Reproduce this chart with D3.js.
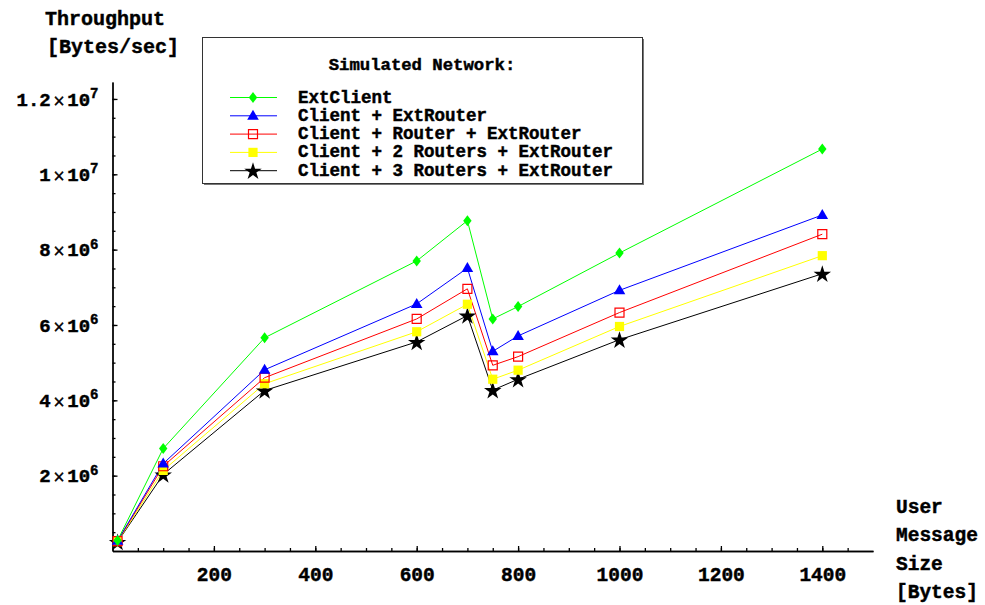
<!DOCTYPE html>
<html>
<head>
<meta charset="utf-8">
<script src="https://cdn.jsdelivr.net/npm/d3@7"></script>
<style>
  body { margin: 0; background: #fff; }
  text { font-family: "Liberation Mono", "DejaVu Sans Mono", monospace; font-weight: bold; fill: #000;
         stroke: #000; stroke-width: 0.45; }
</style>
</head>
<body>
<svg id="chart" width="985" height="605"></svg>
<script>
// message sizes (bytes)
const sizes = [10, 100, 300, 600, 700, 750, 800, 1000, 1400];

// throughput in bytes/sec
const extClient      = [0.28e6, 2.72e6, 5.66e6, 7.70e6, 8.77e6, 6.16e6, 6.49e6, 7.91e6, 10.67e6];
const clientExt      = [0.27e6, 2.32e6, 4.81e6, 6.56e6, 7.51e6, 5.30e6, 5.71e6, 6.92e6, 8.92e6];
const clientRouter   = [0.26e6, 2.25e6, 4.60e6, 6.16e6, 6.96e6, 4.93e6, 5.16e6, 6.33e6, 8.41e6];
const client2Routers = [0.25e6, 2.14e6, 4.44e6, 5.82e6, 6.55e6, 4.56e6, 4.80e6, 5.96e6, 7.84e6];
const client3Routers = [0.24e6, 2.03e6, 4.26e6, 5.55e6, 6.25e6, 4.27e6, 4.56e6, 5.61e6, 7.36e6];

const seriesNames = ["ExtClient", "Client + ExtRouter", "Client + Router + ExtRouter",
                     "Client + 2 Routers + ExtRouter", "Client + 3 Routers + ExtRouter"];
const seriesColors = ["#00ff00", "#0000ff", "#ff0000", "#ffff00", "#000000"];
const seriesMarks = ["diamond", "triangle", "openSquare", "square", "star"];

const xTicks = [200, 400, 600, 800, 1000, 1200, 1400];
const yTicks = [2e6, 4e6, 6e6, 8e6, 10e6, 12e6];
const yTickMantissa = ["2", "4", "6", "8", "1", "1.2"];
const yTickExponent = ["6", "6", "6", "6", "7", "7"];
const xTitleLines = ["User", "Message", "Size", "[Bytes]"];

const svg = d3.select("#chart");

let x = d3.scaleLinear().domain([0, 1500]).range([112.5, 873]);
let y = d3.scaleLinear().domain([0, 12.45e6]).range([551, 82]);

// x axis: minor then major ticks
svg.append("g")
    .attr("transform", `translate(0,${y(0)})`)
    .call(d3.axisBottom(x).tickValues(d3.range(50, 1500, 50)).tickSize(-3).tickSizeOuter(0).tickFormat(""))
    .call(g => g.selectAll("line, path").attr("stroke", "#000").attr("stroke-width", 1.3));

let xAxis = svg.append("g")
    .attr("transform", `translate(0,${y(0)})`)
    .call(d3.axisBottom(x).tickValues(xTicks).tickSize(-5).tickSizeOuter(0).tickPadding(16).tickFormat(d3.format("d")));
xAxis.selectAll("line, path").attr("stroke", "#000").attr("stroke-width", 1.3);
xAxis.selectAll("text").attr("font-size", 19.5).attr("fill", "#000")
    .style("font-family", '"Liberation Mono", monospace').style("font-weight", "bold");

// y axis
svg.append("g")
    .attr("transform", `translate(${x(0)},0)`)
    .call(d3.axisLeft(y).tickValues(d3.range(0.5e6, 12.5e6, 0.5e6)).tickSize(-3).tickSizeOuter(0).tickFormat(""))
    .call(g => g.selectAll("line, path").attr("stroke", "#000").attr("stroke-width", 1.3));

let yAxis = svg.append("g")
    .attr("transform", `translate(${x(0)},0)`)
    .call(d3.axisLeft(y).tickValues(yTicks).tickSize(-5).tickSizeOuter(0).tickPadding(14).tickFormat(""));
yAxis.selectAll("line, path").attr("stroke", "#000").attr("stroke-width", 1.3);
yAxis.selectAll(".tick text").each(function(d, i) {
    let t = d3.select(this).attr("font-size", 19).attr("fill", "#000")
        .style("font-family", '"Liberation Mono", monospace').style("font-weight", "bold");
    t.append("tspan").text(yTickMantissa[i]);
    t.append("tspan").text("\u00d7").style("font-family", '"DejaVu Sans", sans-serif')
        .style("font-weight", "normal").attr("font-size", 15).attr("dx", 2);
    t.append("tspan").text("10").attr("dx", 2);
    t.append("tspan").text(yTickExponent[i]).attr("font-size", 14).attr("dy", "-0.55em");
});

// axis titles
svg.append("text").attr("x", 45).attr("y", 25).attr("font-size", 20).text("Throughput");
svg.append("text").attr("x", 47).attr("y", 53).attr("font-size", 20).text("[Bytes/sec]");
xTitleLines.forEach((s, i) => {
    svg.append("text").attr("x", 896).attr("y", 513 + i * 28.3).attr("font-size", 19.5).text(s);
});

function markerPath(kind) {
    if (kind === "diamond") return "M0,-5.5L4.2,0L0,5.5L-4.2,0Z";
    if (kind === "triangle") return "M0,-6L5.8,4L-5.8,4Z";
    if (kind === "openSquare") return "M-4.5,-4.5H4.5V4.5H-4.5Z";
    if (kind === "square") return "M-4.6,-4.6H4.6V4.6H-4.6Z";
    return d3.symbol(d3.symbolStar, 95)();
}

function drawMarker(g, kind, color) {
    let p = g.append("path").attr("d", markerPath(kind));
    if (kind === "openSquare") {
        p.attr("fill", "#fff").attr("fill-opacity", 0).attr("stroke", color).attr("stroke-width", 1.2);
    } else {
        p.attr("fill", color);
    }
    if (kind === "star") p.attr("transform", "translate(0,0.8)");
}

const allSeries = [extClient, clientExt, clientRouter, client2Routers, client3Routers];
let line = d3.line().x((d, i) => x(sizes[i])).y(d => y(d));

// draw in reverse so green is on top at overlaps
for (let s = allSeries.length - 1; s >= 0; s--) {
    svg.append("path")
        .datum(allSeries[s])
        .attr("d", line)
        .attr("fill", "none")
        .attr("stroke", seriesColors[s])
        .attr("stroke-width", 1);
}
for (let s = allSeries.length - 1; s >= 0; s--) {
    allSeries[s].forEach((v, i) => {
        let g = svg.append("g").attr("transform", `translate(${x(sizes[i])},${y(v)})`);
        drawMarker(g, seriesMarks[s], seriesColors[s]);
    });
}

// legend
let legend = svg.append("g");
legend.append("rect").attr("x", 204).attr("y", 39).attr("width", 440).attr("height", 146).attr("fill", "#777");
legend.append("rect").attr("x", 202.5).attr("y", 37.5).attr("width", 440).attr("height", 146)
    .attr("fill", "#fff").attr("stroke", "#333").attr("stroke-width", 1);
legend.append("text").attr("x", 422).attr("y", 70).attr("text-anchor", "middle").attr("font-size", 17.3)
    .text("Simulated Network:");
seriesNames.forEach((name, i) => {
    let ly = 97.5 + i * 18.3;
    legend.append("line").attr("x1", 230).attr("x2", 277).attr("y1", ly).attr("y2", ly)
        .attr("stroke", seriesColors[i]).attr("stroke-width", 1);
    let g = legend.append("g").attr("transform", `translate(253,${ly})`);
    drawMarker(g, seriesMarks[i], seriesColors[i]);
    legend.append("text").attr("x", 298).attr("y", ly + 5).attr("font-size", 17.5).text(name);
});
</script>
</body>
</html>
